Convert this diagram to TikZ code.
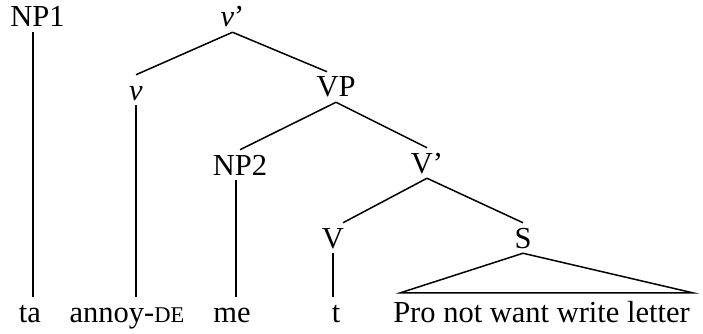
\documentclass[tikz,border=0pt]{standalone}
\usepackage{fontspec}
\setmainfont{Liberation Serif}
\begin{document}
\begin{tikzpicture}[x=1pt,y=-1pt,line width=1.5pt,
	every node/.style={font=\fontsize{30.5}{36}\selectfont,anchor=base,
		inner xsep=0pt,inner ysep=4.5pt,text height=20pt,text depth=0pt}]
	\useasboundingbox (0,0) rectangle (703,334);
	% categories
	\node (NP1) at (37.5,27) {NP1};
	\node (vbar) at (232.5,27) {\textit{v}’};
	\node (v) at (136,100) {\textit{v}};
	\node (VP) at (336,97) {VP};
	\node (NP2) at (240,175) {NP2};
	\node (Vbar) at (427,173) {V’};
	\node (V) at (333,248) {V};
	\node (S) at (523,248) {S};
	% words
	\node (ta) at (30,322) {ta};
	\node (annoy) at (127,322) {annoy-{\fontsize{22.5}{26}\selectfont DE}};
	\node (me) at (232,322) {me};
	\node (t) at (336,322) {t};
	\node (pro) at (541.5,322) {Pro not want write letter};
	% branches
	\draw (vbar.south) -- (v.north);
	\draw (vbar.south) -- ([xshift=-9pt]VP.north);
	\draw (VP.south) -- (NP2.north);
	\draw (VP.south) -- (Vbar.north);
	\draw (Vbar.south) -- ([xshift=10pt]V.north);
	\draw (Vbar.south) -- (S.north);
	\draw ([xshift=-4.5pt]NP1.south) -- ([xshift=-4.5pt]NP1.south |- ta.north);
	\draw (v.south) -- (v.south |- annoy.north);
	\draw ([xshift=-4pt]NP2.south) -- ([xshift=-4pt]NP2.south |- me.north);
	\draw (V.south) -- (V.south |- t.north);
	\draw (S.south) -- ([shift={(8pt,4pt)}]pro.north west)
		-- ([shift={(2pt,4pt)}]pro.north east) -- cycle;
\end{tikzpicture}
\end{document}
